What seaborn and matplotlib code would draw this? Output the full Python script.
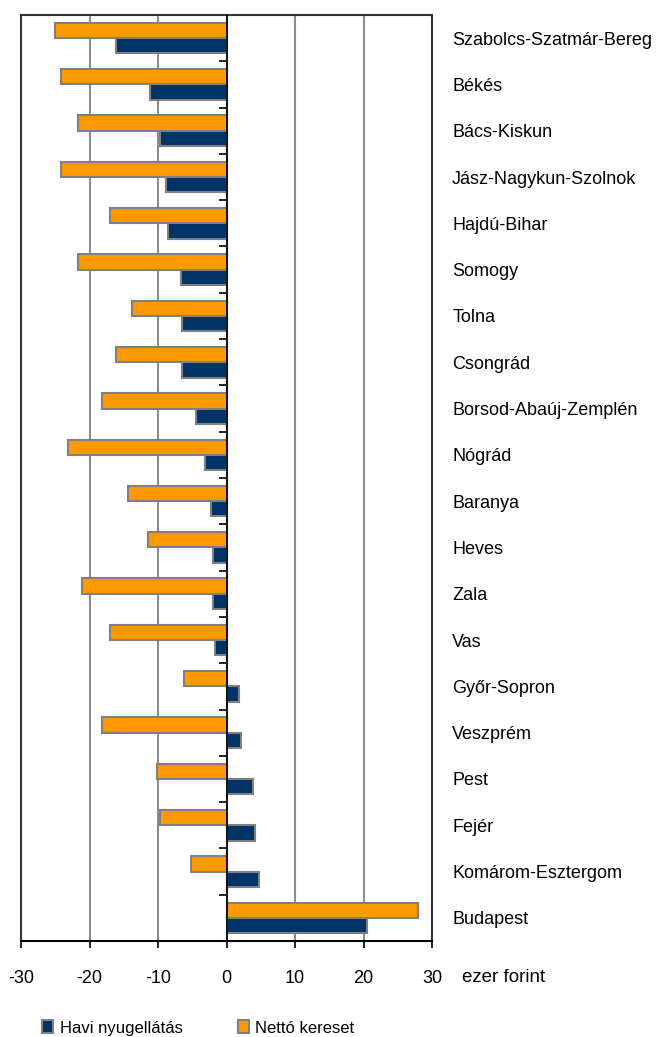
import pandas as pd
import seaborn as sns
import matplotlib.pyplot as plt
from matplotlib.patches import Patch

# county names, top to bottom
megyek = [
    "Szabolcs-Szatmár-Bereg", "Békés", "Bács-Kiskun", "Jász-Nagykun-Szolnok",
    "Hajdú-Bihar", "Somogy", "Tolna", "Csongrád", "Borsod-Abaúj-Zemplén",
    "Nógrád", "Baranya", "Heves", "Zala", "Vas", "Győr-Sopron", "Veszprém",
    "Pest", "Fejér", "Komárom-Esztergom", "Budapest",
]
# difference from national average, thousand HUF
netto_kereset = [-25.0, -24.1, -21.7, -24.1, -17.0, -21.7, -13.8, -16.2, -18.2,
                 -23.2, -14.4, -11.4, -21.1, -17.0, -6.2, -18.2, -10.2, -9.7,
                 -5.2, 27.9]
havi_nyugellatas = [-16.2, -11.1, -9.7, -8.8, -8.5, -6.7, -6.5, -6.5, -4.4,
                    -3.2, -2.3, -2.0, -2.0, -1.7, 1.8, 2.1, 3.9, 4.2, 4.7, 20.5]
sorozatok = ["Nettó kereset", "Havi nyugellátás"]
szinek = ["#ff9900", "#003366"]
x_ticks = [-30, -20, -10, 0, 10, 20, 30]

df = pd.DataFrame({
    "megye": megyek * 2,
    "ertek": netto_kereset + havi_nyugellatas,
    "sorozat": [sorozatok[0]] * len(megyek) + [sorozatok[1]] * len(megyek),
})

plt.rcParams["font.family"] = ["Liberation Sans", "DejaVu Sans"]
plt.rcParams["font.size"] = 13

fig = plt.figure(figsize=(6.6, 10.37), dpi=100)
ax = fig.add_axes([21 / 660, 96 / 1037, 411 / 660, 926 / 1037])

sns.barplot(data=df, y="megye", x="ertek", hue="sorozat", hue_order=sorozatok,
            palette=szinek, saturation=1, orient="h", width=0.66,
            edgecolor="#808080", linewidth=1.5, legend=False, ax=ax)

ax.set_xlim(-30, 30)
ax.set_xticks(x_ticks)
ax.set_xticklabels([str(t) for t in x_ticks])
ax.set_xlabel("")
ax.set_ylabel("")
ax.set_axisbelow(True)
ax.xaxis.grid(True, color="#8c8c8c", linewidth=1.5)
ax.axvline(0, color="black", linewidth=1.2, zorder=3)

# category labels on the right, no tick marks
ax.tick_params(axis="y", left=False, right=False, labelleft=False,
               labelright=True, pad=11)
for lbl in ax.get_yticklabels():
    lbl.set_horizontalalignment("left")
ax.tick_params(axis="x", direction="out", length=5, width=1.2, pad=16,
               color="black")

for side in ["left", "right", "top", "bottom"]:
    ax.spines[side].set_color("#333333")
    ax.spines[side].set_linewidth(1.5)
ax.spines["bottom"].set_color("black")

# category separators on the zero line, pointing left
sec = ax.secondary_yaxis(0.5)
sec.set_yticks([i - 0.5 for i in range(len(megyek) + 1)])
sec.set_yticklabels([])
sec.yaxis.set_ticks_position("left")
sec.tick_params(axis="y", direction="out", length=5, width=1.2)
sec.spines["left"].set_visible(False)
sec.spines["right"].set_visible(False)

fig.text(462 / 660, 1 - 978 / 1037, "ezer forint", ha="left", va="center",
         fontsize=13.5)

handles = [Patch(facecolor=szinek[1], edgecolor="#808080", linewidth=1.5),
           Patch(facecolor=szinek[0], edgecolor="#808080", linewidth=1.5)]
fig.legend(handles, [sorozatok[1], sorozatok[0]], ncol=2, frameon=False,
           loc="center left", bbox_to_anchor=(34 / 660, 1 - 1028 / 1037),
           handlelength=0.65, handleheight=0.8, handletextpad=0.4,
           columnspacing=3.3, borderpad=0, fontsize=12)

fig.savefig("out.png", dpi=100)
